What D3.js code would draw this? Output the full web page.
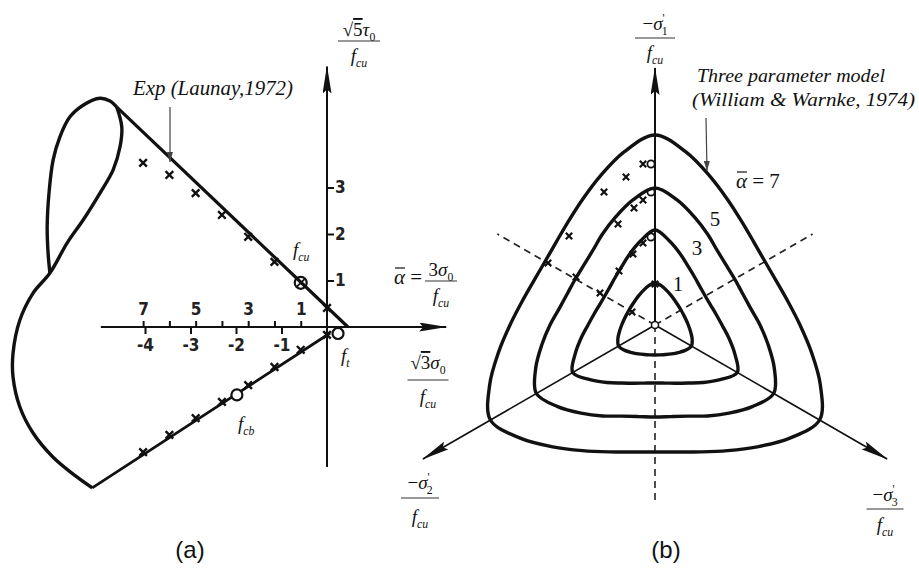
<!DOCTYPE html>
<html>
<head>
<meta charset="utf-8">
<script src="https://cdnjs.cloudflare.com/ajax/libs/d3/7.8.5/d3.min.js"></script>
<style>
body{margin:0;background:#fff}
svg{display:block}
.math{font-family:"Liberation Serif","Times New Roman",serif;fill:#111}
.tick text{font-family:"DejaVu Sans Condensed","DejaVu Sans",sans-serif;font-weight:bold;font-size:17px;fill:#222}
.cap{font-family:"Liberation Sans",Arial,sans-serif;font-size:24px;fill:#111}
</style>
</head>
<body>
<svg id="fig" width="919" height="568"></svg>
<script>
// ---------- panel (a) : meridians, x = sqrt3*sigma0/fcu , y = sqrt5*tau0/fcu ----------
var alphaTicks = [1,2,3,4,5,6,7];
var alphaLabels = [7,5,3,1];
var normTicks = [-4,-3,-2,-1];
var tauTicks = [1,2,3];

var upperMeridian = [[-4.62,4.73],[0.46,0]];
var lowerMeridian = [[-5.16,-3.46],[0.07,-0.13]];
var loopOuter = [[-4.62,4.73],[-4.77,4.86],[-4.99,4.92],[-5.36,4.77],[-5.65,4.52],[-5.87,4.09],
                 [-6.02,3.59],[-6.11,2.88],[-6.15,2.15],[-6.13,1.59],[-6.09,1.16]];
var loopInner = [[-4.62,4.73],[-4.51,4.30],[-4.55,3.87],[-4.70,3.38],[-4.99,2.88],[-5.36,2.30],
                 [-5.71,1.81],[-6.09,1.16],[-6.46,0.73],[-6.75,0.15],[-6.90,-0.56],[-6.90,-1.08],
                 [-6.75,-1.72],[-6.46,-2.28],[-6.02,-2.80],[-5.49,-3.23],[-5.16,-3.46]];

//experimental points, placed by alpha
var expUpperAlpha = [7,6,5,4,3,2,0];
var expUpperTau = [3.53,3.27,2.88,2.41,1.94,1.40,0.41];
var expLowerAlpha = [7,6,5,4,3,2,1,0];
var expLowerTau = [-2.69,-2.32,-1.96,-1.61,-1.25,-0.86,-0.49,-0.17];
var fcuPoint = [1,0.95];
var fcbPoint = [3.43,-1.46];
var ftPoint = [-0.42,-0.14];

// ---------- panel (b) : deviatoric sections, radius every 10 deg from the sigma1 axis ----------
var levels = [1,3,5,7];
var radii1 = [0.42,0.395,0.36,0.333,0.314,0.303,0.30,0.303,0.314,0.333,0.36,0.395,
              0.42,0.395,0.36,0.333,0.314,0.303,0.30,0.303,0.314,0.333,0.36,0.395,
              0.42,0.395,0.36,0.333,0.314,0.303,0.30,0.303,0.314,0.333,0.36,0.395];
var radii3 = [0.95,0.85,0.75,0.67,0.62,0.59,0.58,0.59,0.62,0.67,0.75,0.85,
              0.95,0.85,0.75,0.67,0.62,0.59,0.58,0.59,0.62,0.67,0.75,0.85,
              0.95,0.85,0.75,0.67,0.62,0.59,0.58,0.59,0.62,0.67,0.75,0.85];
var radii5 = [1.37,1.27,1.15,1.05,0.97,0.93,0.92,0.93,0.97,1.05,1.15,1.27,
              1.37,1.27,1.15,1.05,0.97,0.93,0.92,0.93,0.97,1.05,1.15,1.27,
              1.37,1.27,1.15,1.05,0.97,0.93,0.92,0.93,0.97,1.05,1.15,1.27];
var radii7 = [1.90,1.76,1.59,1.45,1.35,1.29,1.27,1.29,1.35,1.45,1.59,1.76,
              1.90,1.76,1.59,1.45,1.35,1.29,1.27,1.29,1.35,1.45,1.59,1.76,
              1.90,1.76,1.59,1.45,1.35,1.29,1.27,1.29,1.35,1.45,1.59,1.76];

var devX = [-0.12,-0.29,-0.51,-0.86,-1.07, -0.12,-0.21,-0.37,-0.79, -0.12,-0.22,-0.36,-0.55, 0,-0.23];
var devY = [1.61,1.48,1.33,0.89,0.62, 1.25,1.17,1.01,0.48, 0.82,0.71,0.54,0.32, 0.41,0.13];
var devCircX = [-0.04,-0.04,-0.04];
var devCircY = [1.61,1.33,0.88];

var svg = d3.select("#fig");

var defs = svg.append("defs");
defs.append("marker")
    .attr("id","arrow")
    .attr("markerUnits","userSpaceOnUse")
    .attr("viewBox","0 0 28 9")
    .attr("refX",27).attr("refY",4.5)
    .attr("markerWidth",28).attr("markerHeight",9)
    .attr("orient","auto")
    .append("path").attr("d","M0,0 L28,4.5 L0,9 L4,4.5 Z").attr("fill","#111");
defs.append("marker")
    .attr("id","small")
    .attr("markerUnits","userSpaceOnUse")
    .attr("viewBox","0 0 10 6")
    .attr("refX",10).attr("refY",3)
    .attr("markerWidth",10).attr("markerHeight",6)
    .attr("orient","auto")
    .append("path").attr("d","M0,0 L10,3 L0,6 Z").attr("fill","#444");

//text with italic / sub / sup pieces
var mathText = function(g,x,y,parts,size,anchor)
{
    var t = g.append("text")
        .attr("x",x).attr("y",y)
        .attr("font-size",size)
        .attr("text-anchor",anchor||"middle")
        .classed("math",true);
    var shift = 0;
    parts.forEach(function(p)
    {
        var target = p.sub ? size*0.28 : (p.sup ? -size*0.42 : 0);
        var s = t.append("tspan").text(p.t).attr("dy",target-shift);
        shift = target;
        if(p.i) s.attr("font-style","italic");
        if(p.sub||p.sup) s.attr("font-size",size*0.62);
        if(p.dx) s.attr("dx",p.dx);
        if(p.over) s.style("text-decoration","overline");
    });
    return t;
};

var frac = function(g,cx,yBar,w,num,den,size,numGap,denGap)
{
    mathText(g,cx,yBar-numGap,num,size);
    g.append("line")
        .attr("x1",cx-w/2).attr("x2",cx+w/2)
        .attr("y1",yBar).attr("y2",yBar)
        .attr("stroke","#333").attr("stroke-width",1);
    mathText(g,cx,yBar+denGap,den,size);
};

var fcu = [{t:"f",i:true},{t:"cu",i:true,sub:true}];

var xMark = function(g,x,y,s,w)
{
    g.append("path")
        .attr("d","M"+(x-s)+","+(y-s)+"L"+(x+s)+","+(y+s)+"M"+(x+s)+","+(y-s)+"L"+(x-s)+","+(y+s))
        .attr("stroke","#111").attr("stroke-width",w).attr("fill","none");
};

// ======================= panel (a) =======================
var xA = d3.scaleLinear().domain([-1,0]).range([281.5,327]);
var yA = d3.scaleLinear().domain([0,1]).range([327,280.5]);
var aA = d3.scaleLinear().domain([0,7]).range([xA(0),xA(-7/Math.sqrt(3))]);

var ga = svg.append("g").classed("panelA",true);

//axes with arrows
ga.append("line")
    .attr("x1",xA(-4.97)).attr("x2",xA(2.62))
    .attr("y1",yA(0)).attr("y2",yA(0))
    .attr("stroke","#111").attr("stroke-width",2)
    .attr("marker-end","url(#arrow)");
ga.append("line")
    .attr("x1",xA(0)).attr("x2",xA(0))
    .attr("y1",yA(-3.01)).attr("y2",yA(5.6))
    .attr("stroke","#111").attr("stroke-width",2)
    .attr("marker-end","url(#arrow)");

var tickStyle = function(g)
{
    g.select(".domain").remove();
    g.selectAll(".tick line").attr("stroke","#111").attr("stroke-width",2);
};

ga.append("g")
    .attr("transform","translate(0,"+yA(0)+")")
    .call(d3.axisTop(aA).tickValues(alphaTicks).tickSize(6).tickPadding(6)
        .tickFormat(function(d){return alphaLabels.indexOf(d)>=0 ? d : ""}))
    .call(tickStyle);
ga.append("g")
    .attr("transform","translate(0,"+yA(0)+")")
    .call(d3.axisBottom(xA).tickValues(normTicks).tickSize(7).tickPadding(5)
        .tickFormat(function(d){return "-"+Math.abs(d)}))
    .call(tickStyle);
ga.append("g")
    .attr("transform","translate("+xA(0)+",0)")
    .call(d3.axisRight(yA).tickValues(tauTicks).tickSize(7).tickPadding(1)
        .tickFormat(function(d){return d}))
    .call(tickStyle);

//failure curve
var lineA = d3.line()
    .x(function(d){return xA(d[0])})
    .y(function(d){return yA(d[1])});
var curveA = d3.line()
    .x(function(d){return xA(d[0])})
    .y(function(d){return yA(d[1])})
    .curve(d3.curveCatmullRom);

ga.append("path").attr("d",curveA(loopOuter))
    .attr("fill","none").attr("stroke","#111").attr("stroke-width",3.4);
ga.append("path").attr("d",curveA(loopInner))
    .attr("fill","none").attr("stroke","#111").attr("stroke-width",3.4);
ga.append("path").attr("d",lineA(upperMeridian))
    .attr("fill","none").attr("stroke","#111").attr("stroke-width",3.2);
ga.append("path").attr("d",lineA(lowerMeridian))
    .attr("fill","none").attr("stroke","#111").attr("stroke-width",2.8);

expUpperAlpha.forEach(function(a,i){ xMark(ga,aA(a),yA(expUpperTau[i]),3.8,2.4) });
expLowerAlpha.forEach(function(a,i){ xMark(ga,aA(a),yA(expLowerTau[i]),3.8,2.4) });

ga.append("circle").attr("cx",aA(fcuPoint[0])).attr("cy",yA(fcuPoint[1])).attr("r",6)
    .attr("fill","none").attr("stroke","#111").attr("stroke-width",2.2);
xMark(ga,aA(fcuPoint[0]),yA(fcuPoint[1]),3.8,1.8);
ga.append("circle").attr("cx",aA(fcbPoint[0])).attr("cy",yA(fcbPoint[1])).attr("r",5.5)
    .attr("fill","#fff").attr("stroke","#111").attr("stroke-width",2.2);
ga.append("circle").attr("cx",aA(ftPoint[0])).attr("cy",yA(ftPoint[1])).attr("r",5.5)
    .attr("fill","#fff").attr("stroke","#111").attr("stroke-width",2.2);

//labels
ga.append("text").classed("math",true)
    .attr("x",133).attr("y",95)
    .attr("font-size",20).attr("font-style","italic")
    .attr("textLength",160).attr("lengthAdjust","spacingAndGlyphs")
    .text("Exp (Launay,1972)");
ga.append("line")
    .attr("x1",170).attr("x2",170).attr("y1",107).attr("y2",162)
    .attr("stroke","#444").attr("stroke-width",1.2)
    .attr("marker-end","url(#small)");

frac(ga,359,41,42,[{t:"√"},{t:"5",over:true},{t:"τ",i:true},{t:"0",sub:true}],fcu,19,5,21);
mathText(ga,293,256,fcu,19,"start");
mathText(ga,341,362,[{t:"f",i:true},{t:"t",i:true,sub:true}],19,"start");
mathText(ga,238,430,[{t:"f",i:true},{t:"cb",i:true,sub:true}],19,"start");

mathText(ga,394,284,[{t:"α",i:true},{t:" ="}],21,"start");
ga.append("line").attr("x1",395).attr("x2",405).attr("y1",268).attr("y2",268)
    .attr("stroke","#111").attr("stroke-width",1.2);
frac(ga,441,281,32,[{t:"3"},{t:"σ",i:true},{t:"0",sub:true}],fcu,19,5,21);
frac(ga,428,380,41,[{t:"√"},{t:"3",over:true},{t:"σ",i:true},{t:"0",sub:true}],fcu,19,11,23);

svg.append("text").classed("cap",true)
    .attr("x",190).attr("y",558).attr("text-anchor","middle").text("(a)");

// ======================= panel (b) =======================
var bx = d3.scaleLinear().domain([-1,1]).range([555,755]);
var by = d3.scaleLinear().domain([-1,1]).range([425,225]);
var rB = d3.scaleLinear().domain([0,1]).range([0,100]);
var cx = bx(0), cy = by(0);

var gb = svg.append("g").classed("panelB",true);
var gc = gb.append("g").attr("transform","translate("+cx+","+cy+")");

var radial = function(angleDeg,r)
{
    return d3.pointRadial(angleDeg*Math.PI/180,rB(r));
};

//axes: sigma1 up, sigma2 / sigma3 lower left and right
var axisRays = [[0,2.57,2],[240,2.68,1.6],[120,2.68,1.6]];
axisRays.forEach(function(a)
{
    var p = radial(a[0],a[1]);
    gc.append("line")
        .attr("x1",0).attr("y1",0).attr("x2",p[0]).attr("y2",p[1])
        .attr("stroke","#111").attr("stroke-width",a[2])
        .attr("marker-end","url(#arrow)");
});
//dashed tensile meridians
var dashRays = [[60,1.82],[300,1.82],[180,1.75]];
dashRays.forEach(function(a)
{
    var p = radial(a[0],a[1]);
    gc.append("line")
        .attr("x1",0).attr("y1",0).attr("x2",p[0]).attr("y2",p[1])
        .attr("stroke","#222").attr("stroke-width",1.6)
        .attr("stroke-dasharray","7,5");
});

var section = d3.lineRadial()
    .angle(function(d,i){return i*Math.PI/18})
    .radius(function(d){return rB(d)})
    .curve(d3.curveCatmullRomClosed);

var sections = [radii1,radii3,radii5,radii7];
sections.forEach(function(r)
{
    gc.append("path").attr("d",section(r))
        .attr("fill","none").attr("stroke","#111").attr("stroke-width",3.4);
});

gc.append("circle").attr("r",3.5).attr("fill","#fff").attr("stroke","#111").attr("stroke-width",1.5);

devX.forEach(function(x,i){ xMark(gb,bx(x),by(devY[i]),3.2,2.2) });
devCircX.forEach(function(x,i)
{
    gb.append("circle").attr("cx",bx(x)).attr("cy",by(devCircY[i])).attr("r",3.6)
        .attr("fill","none").attr("stroke","#111").attr("stroke-width",1.8);
});

//labels
gb.append("text").classed("math",true)
    .attr("x",697).attr("y",82)
    .attr("font-size",19).attr("font-style","italic")
    .attr("textLength",188).attr("lengthAdjust","spacingAndGlyphs")
    .text("Three parameter model");
gb.append("text").classed("math",true)
    .attr("x",692).attr("y",106)
    .attr("font-size",19).attr("font-style","italic")
    .attr("textLength",223).attr("lengthAdjust","spacingAndGlyphs")
    .text("(William & Warnke, 1974)");
gb.append("line")
    .attr("x1",706).attr("x2",707).attr("y1",118).attr("y2",171)
    .attr("stroke","#444").attr("stroke-width",1.2)
    .attr("marker-end","url(#small)");

mathText(gb,736,188,[{t:"α",i:true},{t:" = 7"}],21,"start");
gb.append("line").attr("x1",737).attr("x2",747).attr("y1",172).attr("y2",172)
    .attr("stroke","#111").attr("stroke-width",1.2);

var levelPos = [[678,291],[697,255],[715,226]];
levelPos.forEach(function(p,i)
{
    mathText(gb,p[0],p[1],[{t:String(levels[i])}],21);
});

var sig = function(n)
{
    return [{t:"−"},{t:"σ",i:true},{t:"'",sup:true},{t:n,sub:true,dx:-3}];
};
frac(gb,655,38,40,sig("1"),fcu,19,8,21);
frac(gb,420,498,38,sig("2"),fcu,19,9,25);
frac(gb,885,509,37,sig("3"),fcu,19,8,22);

svg.append("text").classed("cap",true)
    .attr("x",666).attr("y",558).attr("text-anchor","middle").text("(b)");
</script>
</body>
</html>
